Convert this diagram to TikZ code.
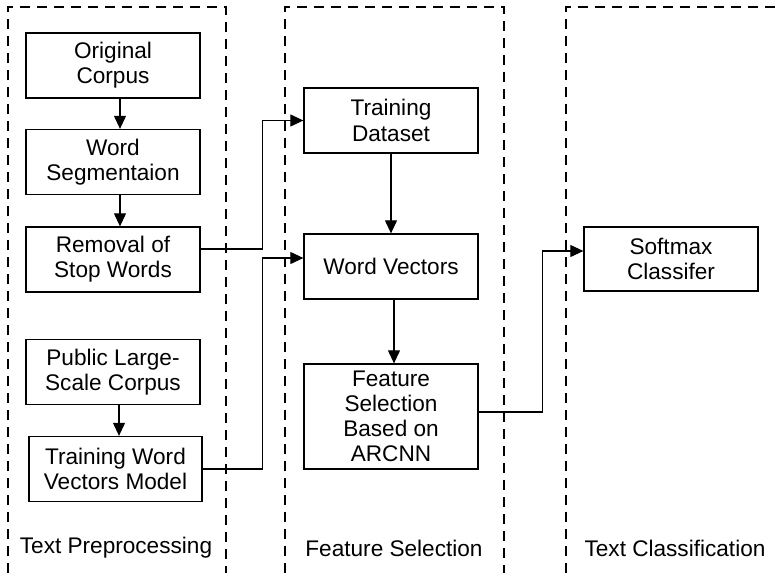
\documentclass[tikz,border=0pt]{standalone}
\usepackage{fontspec}
\setmainfont{Liberation Sans}
\usetikzlibrary{arrows.meta}
\tikzset{
  every node/.style={font=\fontsize{11.3}{12.6}\selectfont},
  box/.style={draw,line width=0.65pt,align=center,minimum width=87pt,
              minimum height=32.5pt,inner sep=2pt},
  ar/.style={-{Triangle[length=6.5pt,width=6pt]},line width=0.55pt},
  lane/.style={line width=0.7pt,dash pattern=on 5pt off 3.5pt},
  stage/.style={inner sep=0pt},
}

\begin{document}
\begin{tikzpicture}[x=0.5pt,y=-0.5pt]
\useasboundingbox (0,0) rectangle (781,573);

% the three stages, open at the bottom
\draw[lane] (8,573) -- (8,7) -- (226,7) -- (226,573);
\draw[lane] (285,573) -- (285,7) -- (504,7) -- (504,573);
\draw[lane] (566,573) -- (566,7) -- (781,7);

\node[stage] (prep) at (116,548) {Text Preprocessing};
\node[stage] (fsel) at (394,548) {Feature Selection};
\node[stage] (tcls) at (675,548) {Text Classification};

% preprocessing
\node[box] (orig) at (113,65.5) {Original\\Corpus};
\node[box] (seg) at (113,162) {Word\\Segmentaion};
\node[box] (stop) at (113,259.5) {Removal of\\Stop Words};
\node[box] (pub) at (113,372) {Public Large-\\Scale Corpus};
\node[box,minimum width=86.5pt] (twv) at (115.5,469) {Training Word\\Vectors Model};

% feature selection
\node[box] (tds) at (391,120.5) {Training\\Dataset};
\node[box] (wv) at (391,266.5) {Word Vectors};
\node[box,minimum height=52.5pt] (arc) at (391,416.5) {Feature\\Selection\\Based on\\ARCNN};

% classification
\node[box,minimum height=32pt] (soft) at (671,259) {Softmax\\Classifer};

\draw[ar] ([xshift=3.5pt]orig.south) -- ([xshift=3.5pt]seg.north);
\draw[ar] ([xshift=3.5pt]seg.south) -- ([xshift=3.5pt]stop.north);
\draw[ar] ([xshift=3pt]pub.south) -- ([xshift=3pt]pub.south |- twv.north);
\draw[ar] (tds.south) -- (wv.north);
\draw[ar] ([xshift=1.5pt]wv.south) -- ([xshift=1.5pt]arc.north);

\draw[ar] ([yshift=5.25pt]stop.east) -- ++(31pt,0) |- (tds.west);
\draw[ar] (twv.east) -- ++(30pt,0) |- ([yshift=4.25pt]wv.west);
\draw[ar] ([yshift=2.25pt]arc.east) -- ++(32pt,0) |- ([yshift=4pt]soft.west);
\end{tikzpicture}
\end{document}
